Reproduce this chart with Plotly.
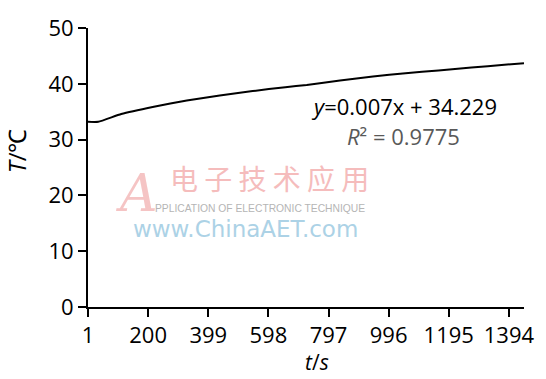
import plotly.graph_objects as go

# Data
t_s = [1, 35, 111, 219, 328, 437, 546, 654, 725, 835, 944, 1052, 1161, 1270, 1379, 1444]
temp_c = [33.2, 33.2, 34.6, 35.9, 37.0, 37.9, 38.7, 39.4, 39.8, 40.6, 41.3, 41.9, 42.4, 42.9, 43.4, 43.7]
x_ticks = [1, 200, 399, 598, 797, 996, 1195, 1394]
y_ticks = [0, 10, 20, 30, 40, 50]

FONT = "Open Sans"

fig = go.Figure()
fig.add_trace(go.Scatter(x=t_s, y=temp_c, mode="lines",
                         line=dict(color="black", width=2, shape="spline", smoothing=0.5),
                         showlegend=False))

W, H = 546, 379
L, R, T, B = 88, 16, 15, 72
pw, ph = W - L - R, H - T - B

def px(x):
    return (x - L) / pw

def py(y):
    return (H - B - y) / ph

ann = []
# regression text
ann.append(dict(x=px(408), y=py(97), text="<i>y</i>=0.007x + 34.229",
                font=dict(family=FONT, size=22, color="black")))
ann.append(dict(x=px(408), y=py(128), text="<i>R</i>² = 0.9775",
                font=dict(family=FONT, size=22, color="#595959")))
# axis titles
ann.append(dict(x=px(15), y=py(143), text="<i>T</i>/℃", textangle=-90,
                font=dict(family=FONT, size=24, color="black")))
ann.append(dict(x=px(320), y=py(365), text="<i>t</i>/<i>s</i>",
                font=dict(family=FONT, size=21, color="black")))
# watermark
ann.append(dict(x=px(272), y=py(172), text="电 子 技 术 应 用",
                font=dict(family="Noto Sans CJK SC", size=28, color="#f5bcbc")))
ann.append(dict(x=px(138), y=py(188), text="<i>A</i>",
                font=dict(family="DejaVu Serif", size=52, color="#f5c4c4")))
ann.append(dict(x=px(262), y=py(204), text="PPLICATION OF ELECTRONIC TECHNIQUE",
                font=dict(family="Liberation Sans", size=10.3, color="#b5b5b5")))
ann.append(dict(x=px(248), y=py(225), text="www.ChinaAET.com",
                font=dict(family="DejaVu Sans", size=23, color="#acd2e6")))
for a in ann:
    a.update(xref="paper", yref="paper", showarrow=False, xanchor="center", yanchor="middle")

fig.update_layout(
    width=W, height=H,
    margin=dict(l=L, r=R, t=T, b=B),
    paper_bgcolor="white", plot_bgcolor="white",
    annotations=ann,
    font=dict(family=FONT, size=22, color="black"),
)
fig.update_xaxes(range=[1, 1444], tickvals=x_ticks, ticktext=[str(v) for v in x_ticks],
                 showgrid=False, zeroline=False, showline=True, linecolor="black", linewidth=2,
                 ticks="outside", ticklen=8, tickwidth=2, tickcolor="black",
                 ticklabeloverflow="allow",
                 tickfont=dict(family=FONT, size=22, color="black"))
fig.update_yaxes(range=[0, 50], tickvals=y_ticks,
                 showgrid=False, zeroline=False, showline=True, linecolor="black", linewidth=2,
                 ticks="outside", ticklen=8, tickwidth=2, tickcolor="black",
                 ticklabeloverflow="allow",
                 tickfont=dict(family=FONT, size=22, color="black"))

fig.write_html("out.html")
